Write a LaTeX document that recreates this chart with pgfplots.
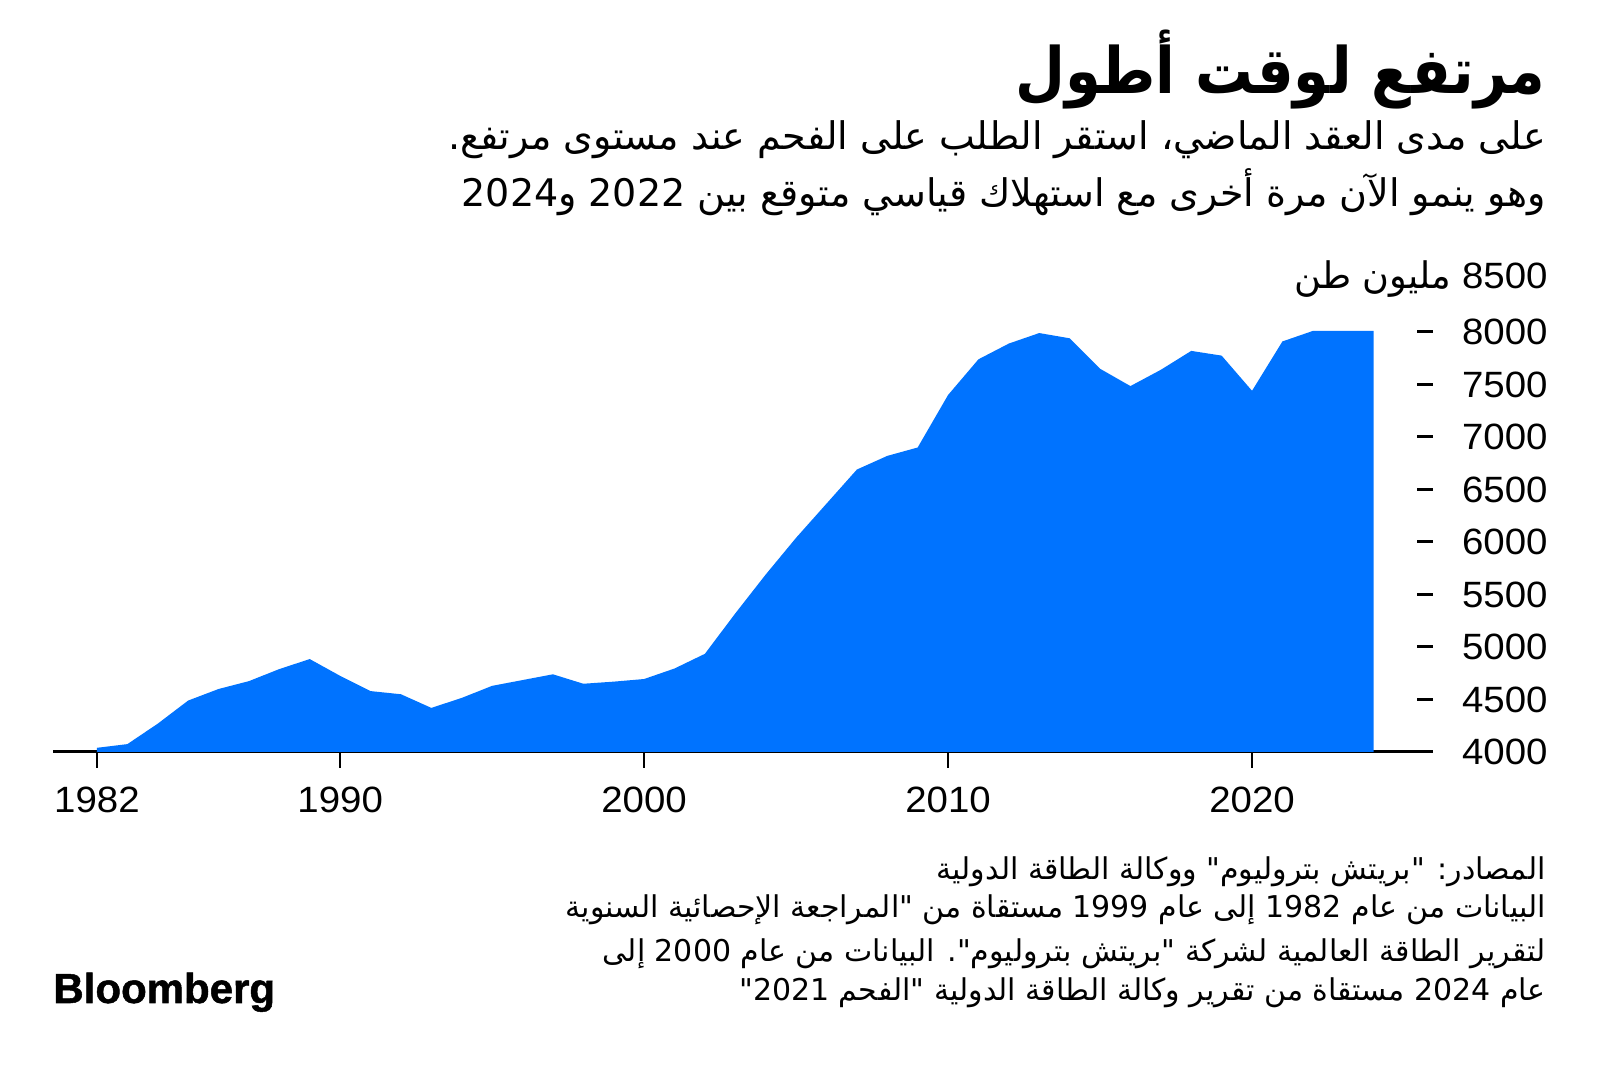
\documentclass[border=0pt]{standalone}
\usepackage{fontspec}
\usepackage{pgfplots}
\pgfplotsset{compat=1.18}
\setmainfont{Liberation Sans}
\newfontfamily\arabicfont[Script=Arabic]{DejaVu Sans}
\newfontfamily\titlefont[Script=Arabic, FakeStretch=0.9]{DejaVu Sans Bold}
\newfontfamily\tickfont[FakeStretch=1.05]{Liberation Sans}
\newfontfamily\logofont[FakeBold=1.2]{Liberation Sans Bold}
\TeXXeTstate=1
\definecolor{bbblue}{RGB}{0,115,255}

\begin{document}
\begin{tikzpicture}
\useasboundingbox (0,0) rectangle (800pt,535pt);
\begin{axis}[
  at={(26.5pt,159pt)}, anchor=south west,
  scale only axis, width=682pt, height=236.25pt,
  xmin=1980.553, xmax=2025.428, ymin=4000, ymax=8500,
  axis x line*=bottom, axis y line*=right,
  y axis line style={draw=none},
  x axis line style={-, line width=1.5pt, shorten >=-6.5pt},
  tick align=outside,
  major tick length=8pt,
  xtick={1982,1990,2000,2010,2020},
  ytick={4000,4500,...,8000},
  xtick style={line width=1pt, black},
  ytick style={line width=1.5pt, black},
  tick label style={font=\tickfont\fontsize{18.3}{20}\selectfont},
  /pgf/number format/assume math mode=true,
  /pgf/number format/1000 sep={},
  yticklabel style={anchor=east, inner sep=0pt, xshift=57.5pt},
  xticklabel style={inner sep=0pt, yshift=-9.5pt},
  extra y ticks={8500},
  extra y tick labels={\beginR\beginL 8500\endL\ {\arabicfont مليون طن}\endR},
  extra y tick style={major tick style={draw=none}},
]
\addplot[draw=none, fill=bbblue] coordinates {
(1982,4040) (1983,4075) (1984,4270) (1985,4490) (1986,4600) (1987,4675)
(1988,4790) (1989,4885) (1990,4725) (1991,4580) (1992,4550) (1993,4420)
(1994,4515) (1995,4630) (1996,4685) (1997,4740) (1998,4650) (1999,4670)
(2000,4695) (2001,4795) (2002,4935) (2003,5320) (2004,5690) (2005,6040)
(2006,6365) (2007,6690) (2008,6820) (2009,6900) (2010,7400) (2011,7740)
(2012,7890) (2013,7990) (2014,7940) (2015,7650) (2016,7485) (2017,7640)
(2018,7820) (2019,7775) (2020,7440) (2021,7910) (2022,8010) (2023,8010)
(2024,8010)
} \closedcycle;
\end{axis}

% title and subtitle
\node[anchor=base east, inner sep=0pt, font=\titlefont\fontsize{32}{36}\selectfont]
  at (773pt,488pt) {\beginR مرتفع لوقت أطول\endR};
\node[anchor=base east, inner sep=0pt, font=\arabicfont\fontsize{19}{22}\selectfont]
  at (773pt,460pt) {\beginR على مدى العقد الماضي، استقر الطلب على الفحم عند مستوى مرتفع.\endR};
\node[anchor=base east, inner sep=0pt, font=\arabicfont\fontsize{19}{22}\selectfont]
  at (773pt,431.5pt) {\beginR وهو ينمو الآن مرة أخرى مع استهلاك قياسي متوقع بين \beginL 2022\endL{} و2024\endR};

% sources
\begin{scope}[every node/.style={anchor=base east, inner sep=0pt, font=\arabicfont\fontsize{15}{17}\selectfont}]
\node at (773pt,95pt) {\beginR المصادر: "بريتش بتروليوم" ووكالة الطاقة الدولية\endR};
\node at (773pt,76pt) {\beginR البيانات من عام \beginL 1982\endL{} إلى عام \beginL 1999\endL{} مستقاة من "المراجعة الإحصائية السنوية\endR};
\node at (773pt,54pt) {\beginR لتقرير الطاقة العالمية لشركة "بريتش بتروليوم". البيانات من عام \beginL 2000\endL{} إلى\endR};
\node at (773pt,34.5pt) {\beginR عام \beginL 2024\endL{} مستقاة من تقرير وكالة الطاقة الدولية "الفحم \beginL 2021\endL"\endR};
\end{scope}

\node[anchor=base west, inner sep=0pt, font=\logofont\fontsize{21}{24}\selectfont]
  at (26.5pt,33.5pt) {Bloomberg};
\end{tikzpicture}
\end{document}
